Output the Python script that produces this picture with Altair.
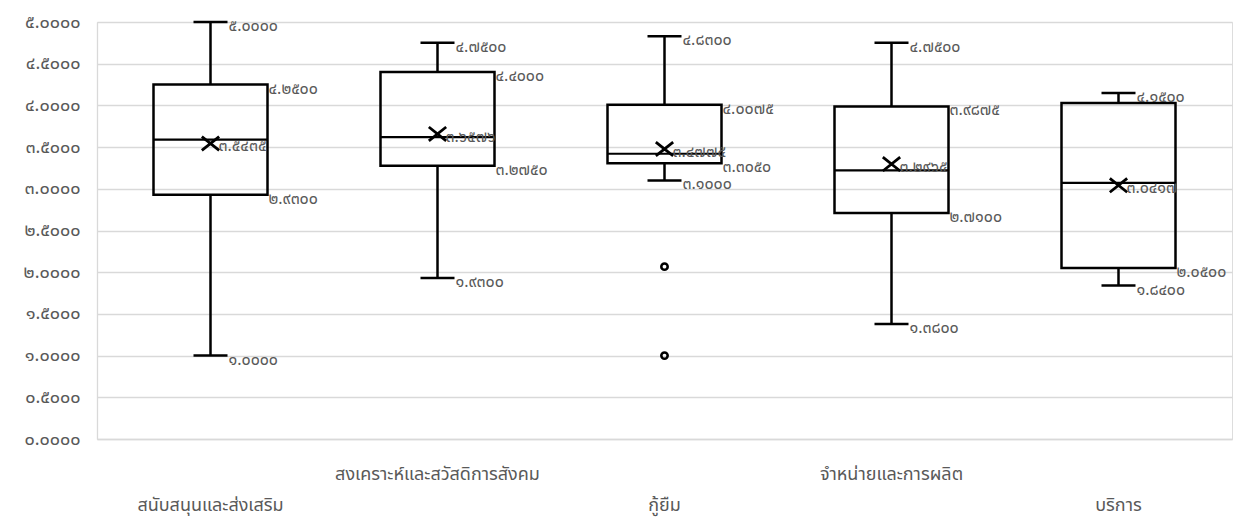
import altair as alt
import pandas as pd

# ---- data ----
categories = ["สนับสนุนและส่งเสริม", "สงเคราะห์และสวัสดิการสังคม", "กู้ยืม",
              "จำหน่ายและการผลิต", "บริการ"]
mins = [1.0000, 1.9300, 3.1000, 1.3800, 1.8400]
q1s = [2.9300, 3.2750, 3.3050, 2.7100, 2.0500]
medians = [3.5900, 3.6200, 3.4200, 3.2200, 3.0700]
q3s = [4.2500, 4.4000, 4.0075, 3.9875, 4.0300]
maxs = [5.0000, 4.7500, 4.8300, 4.7500, 4.1500]
means = [3.5435, 3.6576, 3.4775, 3.2965, 3.0417]
q3_label_shown = [True, True, True, True, False]
outlier_cats = ["กู้ยืม", "กู้ยืม"]
outlier_vals = [2.0667, 1.0000]
y_ticks = [0, 0.5, 1, 1.5, 2, 2.5, 3, 3.5, 4, 4.5, 5]

THAI = "๐๑๒๓๔๕๖๗๘๙"
tr = str.maketrans("0123456789", THAI)


def thai(v):
    return f"{v:.4f}".translate(tr)


box = pd.DataFrame({"cat": categories, "min": mins, "q1": q1s, "med": medians,
                    "q3": q3s, "max": maxs, "mean": means})
caps = pd.DataFrame({"cat": categories * 2, "v": mins + maxs})
cap_lab = caps.assign(t=[thai(v) for v in caps["v"]])
qrows = [(c, v) for c, v in zip(categories, q1s)] + \
        [(c, v) for c, v, s in zip(categories, q3s, q3_label_shown) if s]
q_lab = pd.DataFrame(qrows, columns=["cat", "v"])
q_lab["t"] = [thai(v) for v in q_lab["v"]]
mean_lab = pd.DataFrame({"cat": categories, "v": means,
                         "t": [thai(v) for v in means]})
outl = pd.DataFrame({"cat": outlier_cats, "v": outlier_vals})

FONT = "Tahoma, Noto Sans Thai, sans-serif"
GRAY = "#595959"
GRID = "#d9d9d9"

# y-axis label expression: fixed 4 decimals, Thai digits
yexpr = "format(datum.value, '.4f')"
for d in range(10):
    yexpr = f"replace({yexpr}, /{d}/g, '{THAI[d]}')"

second_row = categories[0::2]
xexpr = ("indexof([" + ",".join(f"'{c}'" for c in second_row) +
         "], datum.value) >= 0 ? ['', datum.value] : datum.value")

x_enc = alt.X("cat:N", sort=categories,
              scale=alt.Scale(paddingInner=0, paddingOuter=0),
              axis=alt.Axis(title=None, labelAngle=0, ticks=False, domainColor=GRID,
                            domainWidth=1.3, labelColor=GRAY, labelFontSize=18,
                            labelFont=FONT, labelPadding=26, labelLineHeight=31,
                            labelLimit=500, labelBaseline="top", labelOverlap=False,
                            labelExpr=xexpr))
yscale = alt.Scale(domain=[0, 5], nice=False)
y_axis = alt.Axis(title=None, values=y_ticks, ticks=False, domain=True, domainColor=GRID,
                  domainWidth=1.3, grid=True, gridColor=GRID, gridWidth=1.3,
                  labelColor=GRAY, labelFontSize=18, labelFont=FONT, labelPadding=17,
                  labelExpr=yexpr)

base = alt.Chart(box).encode(x=x_enc)

whisk_lo = base.mark_rule(color="black", strokeWidth=2.5).encode(
    y=alt.Y("min:Q", scale=yscale, axis=y_axis), y2="q1:Q")
whisk_hi = base.mark_rule(color="black", strokeWidth=2.5).encode(
    y=alt.Y("q3:Q", scale=yscale), y2="max:Q")
boxes = base.mark_bar(size=114, fillOpacity=0, stroke="black", strokeWidth=2.5).encode(
    y=alt.Y("q1:Q", scale=yscale), y2="q3:Q")
med = base.mark_tick(size=114, thickness=2.2, color="black", opacity=1).encode(
    y=alt.Y("med:Q", scale=yscale))
cap_marks = alt.Chart(caps).mark_tick(size=34, thickness=2.5, color="black", opacity=1).encode(
    x=alt.X("cat:N", sort=categories), y=alt.Y("v:Q", scale=yscale))
mean_marks = base.mark_point(shape="M-1,-0.8L1,0.8M1,-0.8L-1,0.8", size=300, filled=False,
                             stroke="black", strokeWidth=2.8, opacity=1).encode(
    y=alt.Y("mean:Q", scale=yscale))
out_marks = alt.Chart(outl).mark_point(shape="circle", size=40, filled=False, stroke="black",
                                       strokeWidth=2.6, opacity=1).encode(
    x=alt.X("cat:N", sort=categories), y=alt.Y("v:Q", scale=yscale))

txt = dict(align="left", baseline="middle", font=FONT, fontSize=16, color=GRAY)
cap_text = alt.Chart(cap_lab).mark_text(dx=18, dy=4, **txt).encode(
    x=alt.X("cat:N", sort=categories), y=alt.Y("v:Q", scale=yscale), text="t:N")
q_text = alt.Chart(q_lab).mark_text(dx=58, dy=4, **txt).encode(
    x=alt.X("cat:N", sort=categories), y=alt.Y("v:Q", scale=yscale), text="t:N")
mean_text = alt.Chart(mean_lab).mark_text(dx=8, dy=3, **txt).encode(
    x=alt.X("cat:N", sort=categories), y=alt.Y("v:Q", scale=yscale), text="t:N")

chart = alt.layer(whisk_lo, whisk_hi, boxes, med, cap_marks, out_marks, mean_marks,
                  cap_text, q_text, mean_text).properties(
    width=1135, height=417,
    padding={"left": 89, "top": 14, "right": 5, "bottom": 80},
    autosize=alt.AutoSizeParams(type="none"),
).configure_view(stroke=None).configure(background="white")

chart.save("out.html", embed_options={"renderer": "svg", "actions": False})
